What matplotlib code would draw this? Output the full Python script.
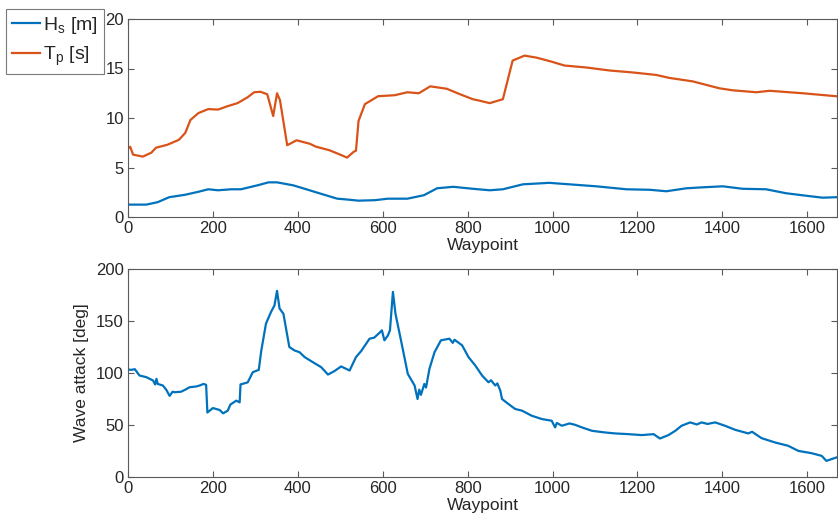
import matplotlib
matplotlib.use("Agg")
import matplotlib.pyplot as plt

plt.rcParams['font.family'] = ['Liberation Sans', 'DejaVu Sans']

# ---- Data ----
tp_wp = [0, 5, 12, 35, 55, 66, 93, 120, 135, 147, 166, 189, 212, 235, 258, 282, 297, 312,
         328, 342, 351, 358, 375, 397, 428, 443, 474, 497, 516, 532, 537, 543, 558, 589,
         628, 658, 685, 712, 751, 782, 812, 828, 852, 883, 906, 934, 962, 997, 1028, 1080,
         1134, 1189, 1244, 1275, 1330, 1393, 1424, 1480, 1511, 1589, 1668]
tp_val = [6.9, 7.1, 6.3, 6.1, 6.5, 7.0, 7.3, 7.8, 8.5, 9.8, 10.5, 10.9, 10.85, 11.2, 11.5,
          12.1, 12.6, 12.65, 12.4, 10.2, 12.5, 11.8, 7.25, 7.75, 7.4, 7.1, 6.75, 6.35, 6.0,
          6.6, 6.7, 9.7, 11.4, 12.2, 12.3, 12.6, 12.5, 13.2, 12.95, 12.4, 11.9, 11.75, 11.5,
          11.9, 15.8, 16.3, 16.1, 15.7, 15.3, 15.1, 14.8, 14.6, 14.35, 14.05, 13.7, 13.0,
          12.8, 12.6, 12.75, 12.5, 12.2]

hs_wp = [0, 43, 70, 97, 135, 166, 189, 212, 243, 266, 305, 331, 351, 389, 420, 458, 493,
         520, 543, 582, 612, 658, 697, 728, 766, 812, 852, 883, 930, 992, 1040, 1103, 1174,
         1229, 1268, 1315, 1354, 1401, 1448, 1503, 1550, 1597, 1636, 1668]
hs_val = [1.25, 1.25, 1.5, 2.0, 2.25, 2.55, 2.8, 2.7, 2.8, 2.8, 3.2, 3.5, 3.5, 3.2, 2.8,
          2.3, 1.85, 1.75, 1.65, 1.7, 1.85, 1.85, 2.2, 2.9, 3.05, 2.85, 2.7, 2.8, 3.3, 3.45,
          3.3, 3.1, 2.8, 2.75, 2.6, 2.9, 3.0, 3.1, 2.85, 2.8, 2.4, 2.15, 1.95, 2.0]

wa_wp = [0, 8, 16, 27, 43, 59, 64, 67, 70, 82, 90, 98, 105, 110, 125, 135, 145, 160, 169,
         178, 184, 187, 200, 216, 224, 235, 241, 255, 263, 265, 282, 294, 308, 314, 325,
         337, 345, 351, 357, 366, 380, 392, 404, 416, 435, 455, 471, 486, 502, 522, 537,
         549, 569, 580, 592, 598, 604, 612, 617, 624, 630, 643, 659, 675, 682, 686, 690,
         698, 702, 710, 722, 737, 757, 765, 769, 787, 802, 818, 834, 849, 855, 865, 870,
         877, 881, 896, 912, 928, 951, 975, 998, 1006, 1010, 1022, 1040, 1053, 1069, 1093,
         1124, 1147, 1179, 1210, 1238, 1253, 1273, 1289, 1304, 1324, 1340, 1351, 1365,
         1383, 1406, 1430, 1461, 1470, 1492, 1524, 1555, 1579, 1610, 1634, 1645, 1668]
wa_val = [103.4, 103, 103.7, 97.6, 96, 92.8, 89, 94.4, 89.5, 88, 84, 78, 82, 81.5, 82, 84,
          86.3, 87, 88, 89.5, 88.6, 62, 66.3, 64.4, 61.2, 63.8, 69.6, 73.4, 71.8, 89, 91,
          100.8, 103, 121.7, 147.5, 158.8, 165, 179, 162, 157, 125, 121.7, 120, 115.3,
          110.5, 105.6, 98.5, 101.8, 106.3, 102.4, 115.3, 121, 133, 134, 138.5, 141, 131.4,
          136, 141, 178, 157, 131.4, 99.2, 88, 75, 84, 79, 89.5, 86, 104, 120, 131.4, 133,
          129, 132, 126.6, 115.3, 107.2, 97.6, 91.1, 93, 88, 90, 83, 75, 70.2, 65.4, 63.8,
          58.9, 55.7, 54.1, 47.7, 52, 49.3, 51.5, 50.2, 47.7, 44.4, 42.8, 41.9, 41.2, 40.3,
          41.2, 37, 40.3, 44.4, 49.3, 52.5, 50.5, 52.5, 51, 52.5, 49.3, 45.4, 41.9, 43.5,
          37.4, 33.2, 30, 25.1, 22.9, 20.3, 15.5, 18.7]

x_ticks = [0, 200, 400, 600, 800, 1000, 1200, 1400, 1600]
top_yticks = [0, 5, 10, 15, 20]
bot_yticks = [0, 50, 100, 150, 200]

BLUE = '#0072BD'
ORANGE = '#D95319'
TXT = '#262626'
SPINE = '#5a5a5a'

W, H = 838, 524
fig = plt.figure(figsize=(W / 100, H / 100), dpi=100)

def fr(x0, y0, x1, y1):
    return [x0 / W, 1 - y1 / H, (x1 - x0) / W, (y1 - y0) / H]

ax1 = fig.add_axes(fr(128, 19, 837, 217))
ax2 = fig.add_axes(fr(128, 269, 837, 477))

for ax in (ax1, ax2):
    for s in ax.spines.values():
        s.set_color(SPINE)
        s.set_linewidth(0.8)
    ax.tick_params(direction='in', top=True, right=True, length=4, width=0.8,
                   color=SPINE, labelcolor=TXT, labelsize=12, pad=3)
    ax.set_xlim(0, 1670)
    ax.set_xticks(x_ticks)
    ax.set_xlabel('Waypoint', fontsize=12.5, color=TXT, labelpad=1)

l1, = ax1.plot(hs_wp, hs_val, color=BLUE, lw=1.6)
l2, = ax1.plot(tp_wp, tp_val, color=ORANGE, lw=1.6)
ax1.set_ylim(0, 20)
ax1.set_yticks(top_yticks)

ax2.plot(wa_wp, wa_val, color=BLUE, lw=1.6)
ax2.set_ylim(0, 200)
ax2.set_yticks(bot_yticks)
ax2.set_ylabel('Wave attack [deg]', fontsize=12.5, color=TXT, labelpad=5)

leg = fig.legend([l1, l2], [r'H$_\mathregular{s}$ [m]', r'T$_\mathregular{p}$ [s]'],
                 loc='upper left', bbox_to_anchor=(6 / W, 1 - 9 / H),
                 frameon=True, fancybox=False, fontsize=14, handlelength=1.45,
                 handletextpad=0.15, borderpad=0.3, labelspacing=0.45,
                 borderaxespad=0)
leg.get_frame().set_edgecolor(SPINE)
leg.get_frame().set_linewidth(0.8)
for t in leg.get_texts():
    t.set_color(TXT)

fig.savefig('out.png', dpi=100)
